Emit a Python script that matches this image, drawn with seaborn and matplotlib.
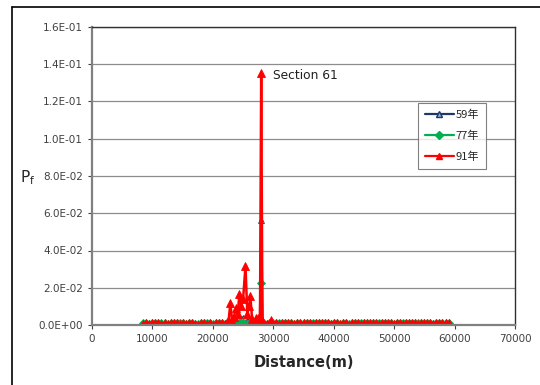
import matplotlib
matplotlib.use("Agg")
import matplotlib.pyplot as plt
import pandas as pd
import seaborn as sns
from matplotlib.lines import Line2D
from matplotlib.ticker import FuncFormatter

# distance along the river (m)
distance = [
    8500, 9000, 9500, 10000, 10500, 11000, 11500, 12000, 12500, 13000,
    13500, 14000, 14500, 15000, 15500, 16000, 16500, 17000, 17500, 18000,
    18500, 19000, 19500, 20000, 20500, 21000, 21500, 22000,
    22300, 22600, 22900, 23200, 23500, 23800, 24100, 24400, 24700, 25000,
    25400, 25700, 26000, 26200, 26500, 26800, 27100, 27500, 27800, 28000,
    28200, 28500, 28900, 29300, 29600, 30000,
    30500, 31000, 31500, 32000, 32500, 33000, 33500, 34000, 34500, 35000,
    35500, 36000, 36500, 37000, 37500, 38000, 38500, 39000, 39500, 40000,
    40500, 41000, 41500, 42000, 42500, 43000, 43500, 44000, 44500, 45000,
    45500, 46000, 46500, 47000, 47500, 48000, 48500, 49000, 49500, 50000,
    50500, 51000, 51500, 52000, 52500, 53000, 53500, 54000, 54500, 55000,
    55500, 56000, 56500, 57000, 57500, 58000, 58500, 59000,
]

pf_59 = [
    0.0002, 0.0002, 0.0001, 0.0002, 0.0002, 0.0001, 0.0002, 0.0002, 0.0001, 0.0002,
    0.0002, 0.0001, 0.0002, 0.0002, 0.0001, 0.0002, 0.0002, 0.0001, 0.0000, 0.0002,
    0.0002, 0.0001, 0.0002, 0.0000, 0.0002, 0.0002, 0.0001, 0.0002,
    0.0002, 0.0003, 0.0005, 0.0004, 0.0008, 0.0012, 0.0025, 0.0035, 0.0030, 0.0040,
    0.0038, 0.0020, 0.0025, 0.0022, 0.0008, 0.0004, 0.0006, 0.0005, 0.0004, 0.0565,
    0.0004, 0.0003, 0.0002, 0.0002, 0.0003, 0.0002,
    0.0002, 0.0001, 0.0002, 0.0002, 0.0001, 0.0002, 0.0002, 0.0001, 0.0002, 0.0002,
    0.0001, 0.0002, 0.0002, 0.0001, 0.0002, 0.0002, 0.0001, 0.0002, 0.0002, 0.0001,
    0.0002, 0.0000, 0.0002, 0.0002, 0.0000, 0.0002, 0.0002, 0.0001, 0.0002, 0.0000,
    0.0002, 0.0002, 0.0001, 0.0002, 0.0002, 0.0001, 0.0002, 0.0002, 0.0001, 0.0002,
    0.0002, 0.0001, 0.0002, 0.0002, 0.0001, 0.0002, 0.0002, 0.0001, 0.0002, 0.0002,
    0.0001, 0.0002, 0.0002, 0.0001, 0.0002, 0.0002, 0.0001, 0.0002,
]

pf_77 = [
    0.0009, 0.0011, 0.0008, 0.0012, 0.0010, 0.0013, 0.0009, 0.0011, 0.0006, 0.0012,
    0.0010, 0.0013, 0.0009, 0.0011, 0.0008, 0.0012, 0.0010, 0.0007, 0.0003, 0.0011,
    0.0013, 0.0009, 0.0012, 0.0004, 0.0010, 0.0013, 0.0011, 0.0008,
    0.0004, 0.0005, 0.0006, 0.0004, 0.0006, 0.0008, 0.0005, 0.0006, 0.0010, 0.0012,
    0.0008, 0.0006, 0.0005, 0.0007, 0.0006, 0.0005, 0.0008, 0.0010, 0.0012, 0.0225,
    0.0010, 0.0008, 0.0005, 0.0004, 0.0006, 0.0005,
    0.0011, 0.0009, 0.0012, 0.0013, 0.0010, 0.0011, 0.0008, 0.0012, 0.0013, 0.0010,
    0.0011, 0.0012, 0.0009, 0.0013, 0.0011, 0.0010, 0.0012, 0.0013, 0.0008, 0.0011,
    0.0012, 0.0005, 0.0013, 0.0010, 0.0004, 0.0012, 0.0011, 0.0013, 0.0009, 0.0012,
    0.0011, 0.0010, 0.0013, 0.0012, 0.0009, 0.0011, 0.0013, 0.0010, 0.0012, 0.0006,
    0.0011, 0.0013, 0.0009, 0.0012, 0.0010, 0.0013, 0.0011, 0.0009, 0.0012, 0.0013,
    0.0010, 0.0011, 0.0008, 0.0012, 0.0013, 0.0010, 0.0011, 0.0012,
]

pf_91 = [
    0.0008, 0.0010, 0.0006, 0.0011, 0.0009, 0.0012, 0.0007, 0.0010, 0.0004, 0.0011,
    0.0009, 0.0012, 0.0008, 0.0010, 0.0006, 0.0011, 0.0009, 0.0005, 0.0001, 0.0010,
    0.0012, 0.0008, 0.0011, 0.0002, 0.0009, 0.0012, 0.0010, 0.0007,
    0.0015, 0.0022, 0.0118, 0.0020, 0.0045, 0.0090, 0.0060, 0.0166, 0.0100, 0.0140,
    0.0316, 0.0060, 0.0100, 0.0155, 0.0030, 0.0015, 0.0035, 0.0040, 0.0030, 0.1353,
    0.0025, 0.0012, 0.0008, 0.0010, 0.0025, 0.0012,
    0.0010, 0.0008, 0.0011, 0.0012, 0.0009, 0.0010, 0.0007, 0.0011, 0.0012, 0.0009,
    0.0010, 0.0011, 0.0008, 0.0012, 0.0010, 0.0009, 0.0011, 0.0012, 0.0007, 0.0010,
    0.0011, 0.0003, 0.0012, 0.0009, 0.0002, 0.0011, 0.0010, 0.0012, 0.0008, 0.0011,
    0.0010, 0.0009, 0.0012, 0.0011, 0.0008, 0.0010, 0.0012, 0.0009, 0.0011, 0.0004,
    0.0010, 0.0012, 0.0008, 0.0011, 0.0009, 0.0012, 0.0010, 0.0008, 0.0011, 0.0012,
    0.0009, 0.0010, 0.0007, 0.0011, 0.0012, 0.0009, 0.0010, 0.0011,
]

series_labels = ["59年", "77年", "91年"]
x_ticks = [0, 10000, 20000, 30000, 40000, 50000, 60000, 70000]
y_ticks = [0.0, 0.02, 0.04, 0.06, 0.08, 0.10, 0.12, 0.14, 0.16]

df = pd.DataFrame({"Distance": distance, "59年": pf_59, "77年": pf_77, "91年": pf_91})

sns.set_theme(style="white")
plt.rcParams["font.family"] = ["DejaVu Sans", "Noto Sans CJK SC"]

fig = plt.figure(figsize=(5.4, 3.85), dpi=100)
ax = fig.add_axes([92 / 540, 1 - 325 / 385, (515 - 92) / 540, (325 - 27) / 385])

styles = {
    "59年": dict(color="#1F3864", marker="^", markersize=4.5, markerfacecolor="#8EA9DB"),
    "77年": dict(color="#00B050", marker="D", markersize=4),
    "91年": dict(color="#FF0000", marker="^", markersize=5.5),
}
for name in series_labels:
    st = styles[name]
    sns.lineplot(data=df, x="Distance", y=name, ax=ax, estimator=None, sort=False,
                 color=st["color"], linewidth=1.8, marker=st["marker"],
                 markersize=st["markersize"], markeredgewidth=0.6,
                 markeredgecolor=st["color"],
                 markerfacecolor=st.get("markerfacecolor", st["color"]))

ax.set_xlim(0, 70000)
ax.set_ylim(0, 0.16)
ax.set_xticks(x_ticks)
ax.set_yticks(y_ticks)
ax.yaxis.set_major_formatter(FuncFormatter(lambda v, p: f"{v:.1E}"))
ax.tick_params(axis="both", labelsize=7.5, colors="#404040", length=3, width=0.8,
               direction="out", bottom=True, left=True)
ax.yaxis.grid(True, color="#8c8c8c", linewidth=0.9)
ax.xaxis.grid(False)
for side in ["left", "bottom"]:
    ax.spines[side].set_color("#808080")
    ax.spines[side].set_linewidth(1.6)
for side in ["top", "right"]:
    ax.spines[side].set_color("#303030")
    ax.spines[side].set_linewidth(1.0)

ax.set_xlabel("Distance(m)", fontsize=10.5, fontweight="bold", labelpad=8)
ax.set_ylabel("")
fig.text(28 / 540, 1 - 178 / 385, r"$\mathregular{P_f}$", fontsize=11, ha="center", va="center")
ax.text(29900, 0.1342, "Section 61", fontsize=8.8, va="center", color="#202020")

handles = [Line2D([0], [0], color=styles[n]["color"], linewidth=1.6, marker=styles[n]["marker"],
                  markersize=4,
                  markerfacecolor=styles[n].get("markerfacecolor", styles[n]["color"]),
                  markeredgecolor=styles[n]["color"]) for n in series_labels]
leg = ax.legend(handles, series_labels, loc="upper left", bbox_to_anchor=(0.771, 0.745),
                frameon=True, fancybox=False, handlelength=2.6,
                handletextpad=0.15, borderpad=0.6, borderaxespad=0, labelspacing=0.95,
                prop={"family": ["Noto Sans CJK SC"], "size": 8})
leg.get_frame().set_edgecolor("#606060")
leg.get_frame().set_linewidth(0.8)

# outer frame of the original figure
fig.add_artist(Line2D([12 / 540, 12 / 540], [0, 1 - 7 / 385], color="black", linewidth=1.2))
fig.add_artist(Line2D([12 / 540, 1], [1 - 7 / 385, 1 - 7 / 385], color="black", linewidth=1.2))

fig.savefig("out.png", dpi=100)
